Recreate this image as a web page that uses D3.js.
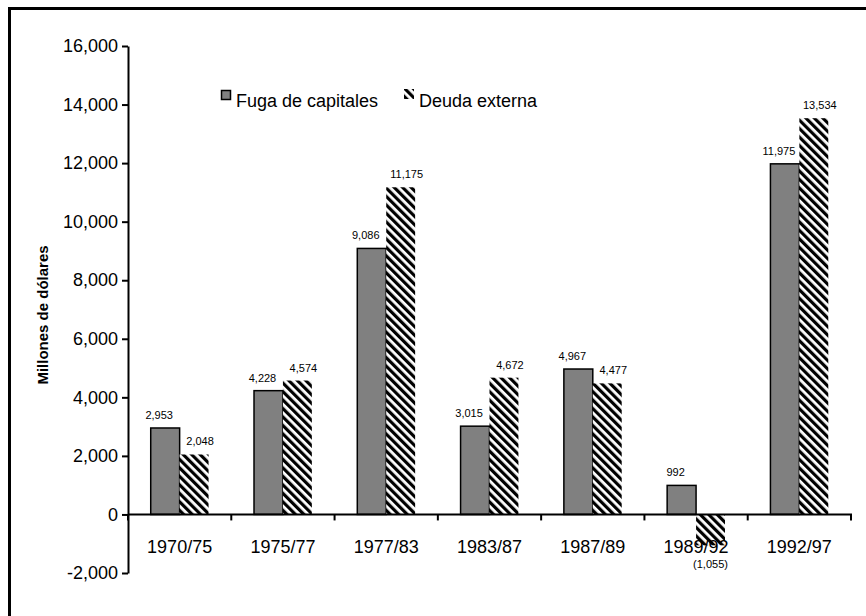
<!DOCTYPE html>
<html>
<head>
<meta charset="utf-8">
<script src="https://cdn.jsdelivr.net/npm/d3@7.9.0/dist/d3.min.js"></script>
<style>
  html, body { margin: 0; padding: 0; background: #fff; }
  svg { display: block; font-family: "Liberation Sans", Arial, sans-serif; }
</style>
</head>
<body>
<svg id="chart" width="866" height="616"></svg>
<script>
// ---------- DATA ----------
const periods = ["1970/75", "1975/77", "1977/83", "1983/87", "1987/89", "1989/92", "1992/97"];
const fugaCapitales = [2953, 4228, 9086, 3015, 4967, 992, 11975];
const deudaExterna = [2048, 4574, 11175, 4672, 4477, -1055, 13534];
const yTicks = [-2000, 0, 2000, 4000, 6000, 8000, 10000, 12000, 14000, 16000];
const seriesNames = ["Fuga de capitales", "Deuda externa"];

// ---------- SETUP ----------
const svg = d3.select("#chart");
const plotLeft = 128, plotRight = 851, plotTop = 46, plotBottom = 573;

const y = d3.scaleLinear().domain([-2000, 16000]).range([plotBottom, plotTop]);
const x = d3.scaleBand().domain(periods).range([plotLeft, plotRight])
    .paddingInner(0.44).paddingOuter(0.22);
const xSub = d3.scaleBand().domain(["fuga", "deuda"]).range([0, x.bandwidth()]);

// plain hyphen for negatives, like the original
const fmt = d3.formatLocale({ decimal: ".", thousands: ",", grouping: [3], currency: ["", ""], minus: "-" }).format(",");

// HATCH PATTERN
const defs = svg.append("defs");
const pat = defs.append("pattern")
    .attr("id", "hatch")
    .attr("patternUnits", "userSpaceOnUse")
    .attr("width", 6).attr("height", 6)
    .attr("patternTransform", "rotate(-45)");
pat.append("rect").attr("width", 6).attr("height", 6).attr("fill", "#fff");
pat.append("line")
    .attr("x1", 1.6).attr("y1", 0).attr("x2", 1.6).attr("y2", 6)
    .attr("stroke", "#000").attr("stroke-width", 3.2);

// FRAME
svg.append("rect")
    .attr("x", 9.5).attr("y", 8.5)
    .attr("width", 1000).attr("height", 1000)
    .attr("fill", "none").attr("stroke", "#000").attr("stroke-width", 3);

// ---------- BARS ----------
const groups = svg.append("g").selectAll("g")
    .data(periods)
    .join("g")
    .attr("transform", d => `translate(${x(d)},0)`);

groups.append("rect")
    .attr("x", xSub("fuga"))
    .attr("width", xSub.bandwidth())
    .attr("y", (d, i) => y(Math.max(0, fugaCapitales[i])))
    .attr("height", (d, i) => Math.abs(y(fugaCapitales[i]) - y(0)))
    .attr("fill", "#808080")
    .attr("stroke", "#000")
    .attr("stroke-width", 1.5);

groups.append("rect")
    .attr("x", xSub("deuda"))
    .attr("width", xSub.bandwidth())
    .attr("y", (d, i) => y(Math.max(0, deudaExterna[i])))
    .attr("height", (d, i) => Math.abs(y(deudaExterna[i]) - y(0)))
    .attr("fill", "url(#hatch)");

// VALUE LABELS
groups.append("text")
    .attr("x", xSub("fuga") + xSub.bandwidth() / 2 - 6)
    .attr("y", (d, i) => y(fugaCapitales[i]) - 9)
    .attr("text-anchor", "middle")
    .attr("font-size", 11)
    .text((d, i) => fmt(fugaCapitales[i]));

groups.append("text")
    .attr("x", xSub("deuda") + xSub.bandwidth() / 2 + 6)
    .attr("y", (d, i) => deudaExterna[i] >= 0 ? y(deudaExterna[i]) - 9 : y(deudaExterna[i]) + 23)
    .attr("dx", (d, i) => deudaExterna[i] >= 0 ? 0 : -6)
    .attr("text-anchor", "middle")
    .attr("font-size", 11)
    .text((d, i) => deudaExterna[i] >= 0 ? fmt(deudaExterna[i]) : `(${fmt(-deudaExterna[i])})`);

// ---------- AXES ----------
const yAxis = svg.append("g")
    .attr("transform", `translate(${plotLeft},0)`)
    .call(d3.axisLeft(y).tickValues(yTicks).tickFormat(fmt).tickSize(6).tickPadding(4).tickSizeOuter(0));
yAxis.select(".domain").attr("stroke", "#000").attr("stroke-width", 2);
yAxis.selectAll(".tick line").attr("stroke", "#000").attr("stroke-width", 2);
yAxis.selectAll(".tick text")
    .attr("font-size", 18)
    .attr("font-family", "'Liberation Sans', Arial, sans-serif")
    .attr("fill", "#000");

// X AXIS LINE AT ZERO
const step = x.step();
const xAxis = svg.append("g");
xAxis.append("line")
    .attr("x1", plotLeft).attr("x2", plotRight + 1)
    .attr("y1", y(0)).attr("y2", y(0))
    .attr("stroke", "#000").attr("stroke-width", 2);
xAxis.selectAll(".xtick")
    .data(d3.range(periods.length + 1))
    .join("line")
    .attr("class", "xtick")
    .attr("x1", i => plotLeft + i * step).attr("x2", i => plotLeft + i * step)
    .attr("y1", y(0)).attr("y2", y(0) + 6)
    .attr("stroke", "#000").attr("stroke-width", 2);
xAxis.selectAll(".xlabel")
    .data(periods)
    .join("text")
    .attr("class", "xlabel")
    .attr("x", d => x(d) + x.bandwidth() / 2)
    .attr("y", y(0) + 39)
    .attr("text-anchor", "middle")
    .attr("font-size", 18)
    .text(d => d);

// AXIS TITLE
svg.append("text")
    .attr("transform", "translate(48,315) rotate(-90)")
    .attr("text-anchor", "middle")
    .attr("font-size", 15)
    .attr("font-weight", "bold")
    .text("Millones de dólares");

// ---------- LEGEND ----------
const legend = svg.append("g");
legend.append("rect")
    .attr("x", 221.5).attr("y", 90.5).attr("width", 9).attr("height", 9)
    .attr("fill", "#808080").attr("stroke", "#000").attr("stroke-width", 1.5);
legend.append("text")
    .attr("x", 236).attr("y", 107)
    .attr("font-size", 18)
    .text(seriesNames[0]);
legend.append("rect")
    .attr("x", 404).attr("y", 89).attr("width", 10).attr("height", 10)
    .attr("fill", "url(#hatch)");
legend.append("text")
    .attr("x", 419).attr("y", 107)
    .attr("font-size", 18)
    .text(seriesNames[1]);
</script>
</body>
</html>
